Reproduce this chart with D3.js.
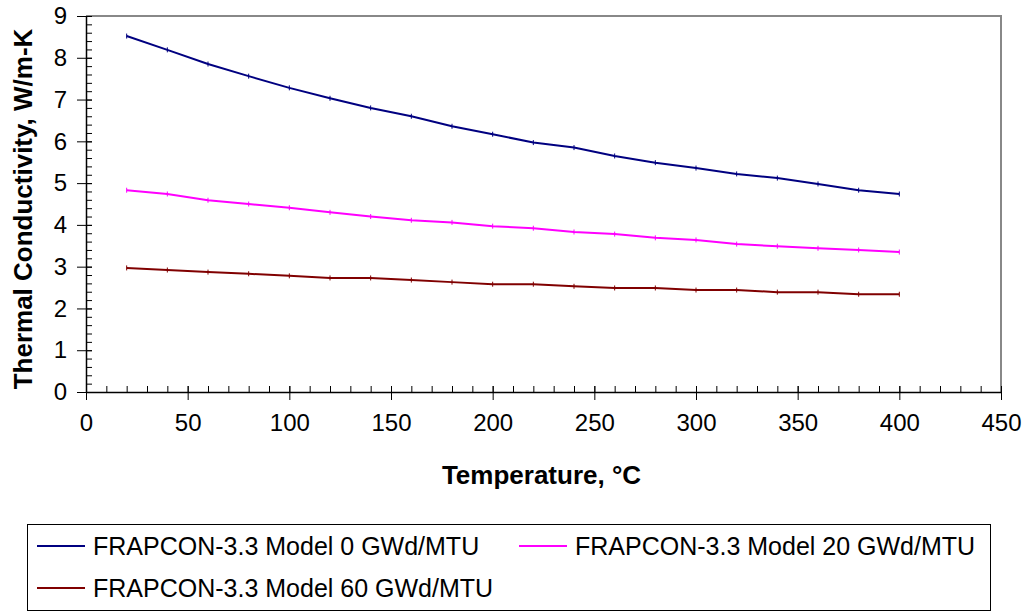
<!DOCTYPE html>
<html lang="en">
<head>
	<meta charset="utf-8">
	<title>Thermal Conductivity vs Temperature</title>
	<script type="text/javascript" src="https://d3js.org/d3.v7.min.js"></script>
	<style>
		body { margin: 0; background: #fff; }
		text { font-family: "Liberation Sans", Arial, sans-serif; }
	</style>
</head>
<body>
	<script type="text/javascript">
        // temperatures (deg C) where the model was evaluated
        var temps = [20, 40, 60, 80, 100, 120, 140, 160, 180, 200, 220, 240, 260, 280, 300, 320, 340, 360, 380, 400];
        // conductivity, W/m-K
        var k0 = [8.52, 8.19, 7.85, 7.56, 7.28, 7.03, 6.80, 6.60, 6.36, 6.17, 5.97, 5.85, 5.65, 5.49, 5.36, 5.22, 5.12, 4.98, 4.83, 4.74];
        var k20 = [4.83, 4.74, 4.59, 4.50, 4.41, 4.30, 4.20, 4.11, 4.06, 3.97, 3.92, 3.83, 3.78, 3.69, 3.64, 3.54, 3.49, 3.44, 3.40, 3.35];
        var k60 = [2.97, 2.92, 2.87, 2.83, 2.78, 2.73, 2.73, 2.68, 2.63, 2.58, 2.58, 2.53, 2.49, 2.49, 2.44, 2.44, 2.39, 2.39, 2.34, 2.34];
        var seriesNames = ["FRAPCON-3.3 Model 0 GWd/MTU", "FRAPCON-3.3 Model 20 GWd/MTU", "FRAPCON-3.3 Model 60 GWd/MTU"];
        var seriesColors = ["#000080", "#ff00ff", "#800000"];
        var xTicks = [0, 50, 100, 150, 200, 250, 300, 350, 400, 450];
        var yTicks = [0, 1, 2, 3, 4, 5, 6, 7, 8, 9];

        var width = 1028, height = 613;
        // plot area edges (careful: "top" is taken by window.top)
        var plotL = 86, plotR = 1001, plotT = 16, plotB = 392;

        var svg = d3.select("body")
            .append("svg")
            .attr("width", width)
            .attr("height", height);

        var x = d3.scaleLinear().domain([0, 450]).range([plotL, plotR]);
        var y = d3.scaleLinear().domain([0, 9]).range([plotB, plotT]);

        // gray frame on top and right, like the excel plot area
        svg.append("path")
            .attr("d", "M" + plotL + "," + plotT + "H" + plotR + "V" + plotB)
            .attr("fill", "none")
            .attr("stroke", "#888")
            .attr("stroke-width", 2);

        // minor ticks (inside only)
        svg.append("g")
            .attr("transform", "translate(0," + plotB + ")")
            .call(d3.axisBottom(x).tickValues(d3.range(0, 451, 10)).tickSize(-6).tickFormat(""))
            .call(function(g) { g.select(".domain").remove(); });
        svg.append("g")
            .attr("transform", "translate(" + plotL + ",0)")
            .call(d3.axisLeft(y).tickValues(d3.range(0, 45.5, 1).map(function(v) { return v / 5; })).tickSize(-6).tickFormat(""))
            .call(function(g) { g.select(".domain").remove(); });

        // major ticks cross the axis line
        var xAxis = svg.append("g")
            .attr("transform", "translate(0," + plotB + ")")
            .call(d3.axisBottom(x).tickValues(xTicks).tickSizeInner(8).tickSizeOuter(0).tickPadding(14));
        xAxis.selectAll(".tick line").attr("y1", -6);
        xAxis.selectAll("text").attr("font-size", 24).attr("font-family", "Liberation Sans, Arial, sans-serif").attr("fill", "#000");

        var yAxis = svg.append("g")
            .attr("transform", "translate(" + plotL + ",0)")
            .call(d3.axisLeft(y).tickValues(yTicks).tickSizeInner(9).tickSizeOuter(0).tickPadding(10));
        yAxis.selectAll(".tick line").attr("x1", 6);
        yAxis.selectAll("text").attr("font-size", 24).attr("font-family", "Liberation Sans, Arial, sans-serif").attr("fill", "#000");

        svg.selectAll(".domain").attr("stroke", "#000").attr("stroke-width", 1.5);
        svg.selectAll(".tick line").attr("stroke", "#000");

        // the series
        var allSeries = [k0, k20, k60];
        var line = d3.line()
            .x(function(d, i) { return x(temps[i]); })
            .y(function(d) { return y(d); });

        allSeries.forEach(function(vals, s) {
            svg.append("path")
                .datum(vals)
                .attr("d", line)
                .attr("fill", "none")
                .attr("stroke", seriesColors[s])
                .attr("stroke-width", 2);
            // tiny dash markers at each point
            svg.append("g").selectAll("line")
                .data(vals)
                .enter()
                .append("line")
                .attr("x1", function(d, i) { return x(temps[i]); })
                .attr("x2", function(d, i) { return x(temps[i]); })
                .attr("y1", function(d) { return y(d) - 2.5; })
                .attr("y2", function(d) { return y(d) + 2.5; })
                .attr("stroke", seriesColors[s])
                .attr("stroke-width", 1);
        });

        // axis titles
        svg.append("text")
            .attr("x", (plotL + plotR) / 2 - 2)
            .attr("y", 484)
            .attr("text-anchor", "middle")
            .attr("font-size", 26)
            .attr("font-weight", "bold")
            .text("Temperature, \u00b0C");

        svg.append("text")
            .attr("transform", "translate(32,209) rotate(-90)")
            .attr("text-anchor", "middle")
            .attr("font-size", 26)
            .attr("font-weight", "bold")
            .text("Thermal Conductivity, W/m-K");

        // legend
        var legend = svg.append("g");
        legend.append("rect")
            .attr("x", 27.5).attr("y", 524.5)
            .attr("width", 963).attr("height", 86)
            .attr("fill", "none")
            .attr("stroke", "#000")
            .attr("stroke-width", 1);

        var legendPos = [[37, 546], [519, 546], [37, 588]];
        seriesNames.forEach(function(name, s) {
            var p = legendPos[s];
            legend.append("line")
                .attr("x1", p[0]).attr("x2", p[0] + 48)
                .attr("y1", p[1]).attr("y2", p[1])
                .attr("stroke", seriesColors[s])
                .attr("stroke-width", 2);
            legend.append("text")
                .attr("x", p[0] + 56)
                .attr("y", p[1] + 9)
                .attr("font-size", 25)
                .text(name);
        });
	</script>
</body>
</html>
